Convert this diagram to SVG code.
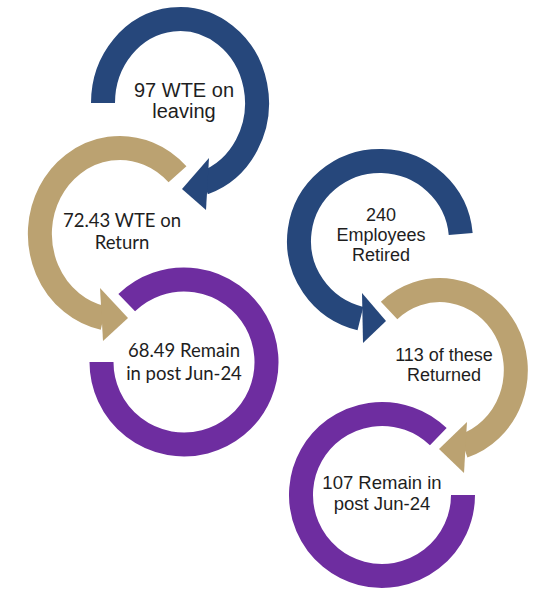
<svg xmlns="http://www.w3.org/2000/svg" width="535" height="590" viewBox="0 0 535 590">
<style>
.body{fill:none;stroke-width:24;stroke-linecap:butt}
.navy{stroke:#26477B}
.tan{stroke:#BBA271}
.purple{stroke:#6E2DA0}
.hn{fill:#26477B}
.ht{fill:#BBA271}
.ta{font-family:"Liberation Sans",Arial,sans-serif;fill:#1e1e1e;text-anchor:middle}
.tc{font-family:Lato,"Liberation Sans",sans-serif;fill:#1e1e1e;text-anchor:middle}
</style>
<rect width="535" height="590" fill="#ffffff"/>
<g id="connectors">
</g>
<g id="node-wte-leaving">
<path class="body navy" d="M103,103 A77,84 0 1 1 203.8,182.9"/>
<polygon class="hn" points="182,189 209,158 206,210"/>
<text class="ta" font-size="20" x="184" y="97">97 WTE on</text>
<text class="ta" font-size="20" x="184" y="118">leaving</text>
</g>
<g id="node-wte-return">
<path class="body tan" d="M177.5,174.3 A80,86 0 1 0 103.4,318.1"/>
<polygon class="ht" points="128,318 100,288 103,341"/>
<text class="tc" font-size="18.5" x="122" y="227">72.43 WTE on</text>
<text class="tc" font-size="18.5" x="122" y="249">Return</text>
</g>
<g id="node-remain-left">
<path class="body purple" d="M126.7,302.7 A82.5,82.5 0 1 1 101.5,362"/>
<text class="tc" font-size="18.5" x="184" y="357">68.49 Remain</text>
<text class="tc" font-size="18.5" x="184" y="380">in post Jun-24</text>
</g>
<g id="node-retired">
<path class="body navy" d="M460.7,234 A81,80 0 1 0 360.4,318.6"/>
<polygon class="hn" points="386,321 362,293 363,343"/>
<text class="ta" font-size="18" x="381" y="221">240</text>
<text class="ta" font-size="18" x="381" y="241">Employees</text>
<text class="ta" font-size="18" x="381" y="261">Retired</text>
</g>
<g id="node-returned">
<path class="body tan" d="M389.1,310.5 A76,80 0 1 1 463.5,446.1"/>
<polygon class="ht" points="439,449 467,422 464,473"/>
<text class="ta" font-size="18" x="444" y="361">113 of these</text>
<text class="ta" font-size="18" x="444" y="381">Returned</text>
</g>
<g id="node-remain-right">
<path class="body purple" d="M438.3,436.7 A81,81 0 1 0 463,495"/>
<text class="ta" font-size="18.5" x="382" y="489">107 Remain in</text>
<text class="ta" font-size="18.5" x="382" y="510">post Jun-24</text>
</g>
</svg>
